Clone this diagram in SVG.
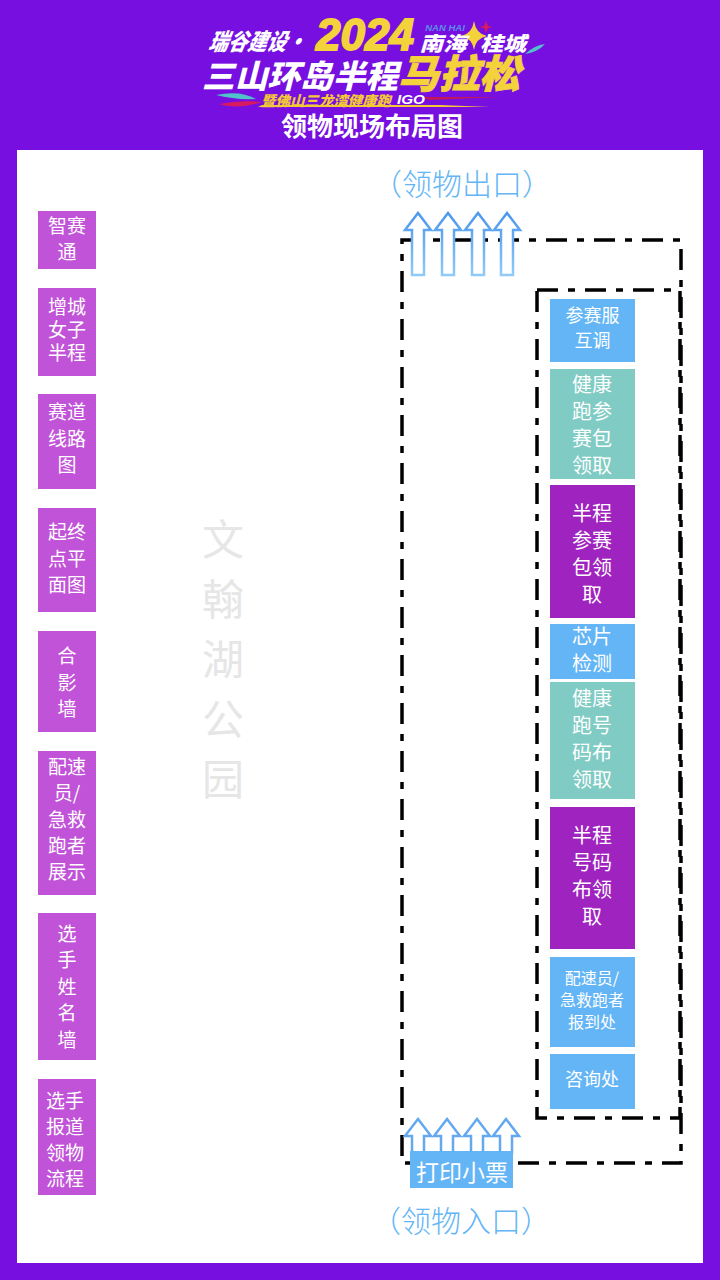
<svg xmlns="http://www.w3.org/2000/svg" width="720" height="1280" viewBox="0 0 720 1280">
<style>
text{font-family:"Noto Sans CJK SC","Noto Sans",sans-serif;text-anchor:middle}
.l{fill:#c153d8}.b{fill:#64b5f6}.t{fill:#80cbc4}.p{fill:#9f23be}
.w{fill:#fff;font-size:19px}.w18{fill:#fff;font-size:18px}.w20{fill:#fff;font-size:20px}
.park{fill:#e6e6e6;font-size:42px}
.gate{fill:#64b5f6;font-size:30px;font-weight:300}
.dash{fill:none;stroke:#000;stroke-width:3.5;stroke-dasharray:21 10 7 10}
.logo{font-weight:900;font-style:italic}
.lat{font-family:"Liberation Sans",sans-serif;font-weight:700;font-style:italic}
</style>
<defs>
<linearGradient id="fade" x1="0" y1="0" x2="0" y2="1"><stop offset="0" stop-color="#4a97ee"/><stop offset="1" stop-color="#90caf9"/></linearGradient>
<path id="up" d="M0 0L13 17H6V62H-6V17H-13Z" fill="#fff" stroke="url(#fade)" stroke-width="2.5"/>
<path id="up2" d="M0 0L13 17H6V34H-6V17H-13Z" fill="#fff" stroke="#64a9f0" stroke-width="2.5"/>
</defs>
<rect width="720" height="1280" fill="#770fe0"/>
<rect x="17" y="150" width="686" height="1113" fill="#fff"/>
<g id="logo">
<path d="M216 95Q240 90 256 99Q235 100 216 95Z" fill="#4fc3c9"/>
<path d="M219 104Q240 100 262 102Q238 110 219 104Z" fill="#d81b60"/>
<path d="M258 107H490L440 105H262Z" fill="#f2c738"/>
<path d="M420 97H500L430 100Z" fill="#c2185b"/>
<path d="M525 54Q535 45 545 44Q538 52 525 54Z" fill="#4fc3c9"/>
<path d="M474 21Q476 34 487 36Q476 38 474 50Q472 38 461 36Q472 34 474 21Z" fill="#f4d23c"/>
<path d="M486 21L488 26L493 27L488 28L486 33L484 28L479 27L484 26Z" fill="#d81b60"/>
<text class="logo" x="257" y="50" fill="#fff" font-size="23" transform="translate(10 0) skewX(-12)" textLength="97" lengthAdjust="spacingAndGlyphs">瑞谷建设·</text>
<text class="lat" x="359" y="50" fill="#f4d23c" stroke="#f4d23c" stroke-width="1.8" font-size="44" transform="translate(6 0)" textLength="98" lengthAdjust="spacingAndGlyphs">2024</text>
<text class="lat" x="445" y="31" fill="#5b8de8" font-size="9.5">NAN HAI</text>
<text class="logo" x="443" y="51" fill="#fff" font-size="20" font-weight="700" textLength="47" lengthAdjust="spacingAndGlyphs">南海</text>
<text class="logo" x="503" y="51" fill="#fff" font-size="20" font-weight="700" textLength="46" lengthAdjust="spacingAndGlyphs">桂城</text>
<text class="logo" x="300" y="88" fill="#fff" font-size="32" font-weight="700" textLength="196" lengthAdjust="spacingAndGlyphs">三山环岛半程</text>
<text class="logo" x="459" y="88" fill="#f4d23c" stroke="#f4d23c" stroke-width=".8" font-size="39" textLength="122" lengthAdjust="spacingAndGlyphs">马拉松</text>
<text class="logo" x="326" y="106" fill="#f2c738" font-size="14" textLength="130" lengthAdjust="spacingAndGlyphs">暨佛山三龙湾健康跑</text>
<text class="lat" x="411" y="104" fill="#fff" font-size="12" textLength="28" lengthAdjust="spacingAndGlyphs">IGO</text>
</g>
<text x="372" y="136" fill="#fff" font-size="26" font-weight="700">领物现场布局图</text>
<g id="park"><text class="park" x="223" y="555">文</text><text class="park" x="223" y="615">翰</text><text class="park" x="223" y="675">湖</text><text class="park" x="223" y="735">公</text><text class="park" x="223" y="795">园</text></g>
<g id="exit-label"><text class="gate" x="462" y="195">（领物出口）</text></g>
<g id="entry-label"><text class="gate" x="461" y="1232">（领物入口）</text></g>
<g id="connectors">
<rect class="dash" x="402" y="240" width="279" height="923"/>
<rect class="dash" x="537" y="290" width="143" height="828"/>
<use href="#up" x="418" y="213"/><use href="#up" x="448" y="213"/><use href="#up" x="478" y="213"/><use href="#up" x="507" y="213"/>
<use href="#up2" x="418" y="1119"/><use href="#up2" x="447" y="1119"/><use href="#up2" x="477" y="1119"/><use href="#up2" x="506" y="1119"/>
</g>
<g id="ticket"><rect class="b" x="410" y="1151" width="103" height="37"/><text class="w" style="font-size:23px" x="462" y="1181">打印小票</text></g>
<g id="n1"><rect class="l" x="38" y="211" width="58" height="58"/><text class="w" x="67" y="233">智赛</text><text class="w" x="67" y="259">通</text></g>
<g id="n2"><rect class="l" x="38" y="288" width="58" height="88"/><text class="w" x="67" y="314">增城</text><text class="w" x="67" y="337">女子</text><text class="w" x="67" y="360">半程</text></g>
<g id="n3"><rect class="l" x="38" y="394" width="58" height="95"/><text class="w" x="67" y="419">赛道</text><text class="w" x="67" y="446">线路</text><text class="w" x="67" y="472">图</text></g>
<g id="n4"><rect class="l" x="38" y="508" width="58" height="104"/><text class="w" x="67" y="539">起终</text><text class="w" x="67" y="566">点平</text><text class="w" x="67" y="592">面图</text></g>
<g id="n5"><rect class="l" x="38" y="631" width="58" height="101"/><text class="w" x="67" y="663">合</text><text class="w" x="67" y="690">影</text><text class="w" x="67" y="716">墙</text></g>
<g id="n6"><rect class="l" x="38" y="751" width="58" height="144"/><text class="w" x="67" y="774">配速</text><text class="w" x="67" y="800">员/</text><text class="w" x="67" y="827">急救</text><text class="w" x="67" y="853">跑者</text><text class="w" x="67" y="879">展示</text></g>
<g id="n7"><rect class="l" x="38" y="913" width="58" height="147"/><text class="w" x="67" y="941">选</text><text class="w" x="67" y="967">手</text><text class="w" x="67" y="994">姓</text><text class="w" x="67" y="1020">名</text><text class="w" x="67" y="1047">墙</text></g>
<g id="n8"><rect class="l" x="38" y="1079" width="58" height="116"/><text class="w" x="65" y="1108">选手</text><text class="w" x="65" y="1134">报道</text><text class="w" x="65" y="1160">领物</text><text class="w" x="65" y="1186">流程</text></g>
<g id="r1"><rect class="b" x="550" y="299" width="85" height="63"/><text class="w18" x="592.5" y="322">参赛服</text><text class="w18" x="592.5" y="347">互调</text></g>
<g id="r2"><rect class="t" x="550" y="369" width="85" height="110"/><text class="w20" x="592" y="392">健康</text><text class="w20" x="592" y="419">跑参</text><text class="w20" x="592" y="446">赛包</text><text class="w20" x="592" y="473">领取</text></g>
<g id="r3"><rect class="p" x="550" y="485" width="85" height="133"/><text class="w20" x="592" y="521">半程</text><text class="w20" x="592" y="548">参赛</text><text class="w20" x="592" y="575">包领</text><text class="w20" x="592" y="602">取</text></g>
<g id="r4"><rect class="b" x="550" y="624" width="85" height="55"/><text class="w20" x="592" y="644">芯片</text><text class="w20" x="592" y="671">检测</text></g>
<g id="r5"><rect class="t" x="550" y="682" width="85" height="117"/><text class="w20" x="592" y="706">健康</text><text class="w20" x="592" y="733">跑号</text><text class="w20" x="592" y="760">码布</text><text class="w20" x="592" y="787">领取</text></g>
<g id="r6"><rect class="p" x="550" y="807" width="85" height="142"/><text class="w20" x="592" y="843">半程</text><text class="w20" x="592" y="870">号码</text><text class="w20" x="592" y="897">布领</text><text class="w20" x="592" y="924">取</text></g>
<g id="r7"><rect class="b" x="550" y="957" width="85" height="90"/><text class="w" style="font-size:16px" x="592" y="984">配速员/</text><text class="w" style="font-size:16px" x="592" y="1006">急救跑者</text><text class="w" style="font-size:16px" x="592" y="1028">报到处</text></g>
<g id="r8"><rect class="b" x="550" y="1054" width="85" height="55"/><text class="w18" x="592" y="1086">咨询处</text></g>
</svg>
